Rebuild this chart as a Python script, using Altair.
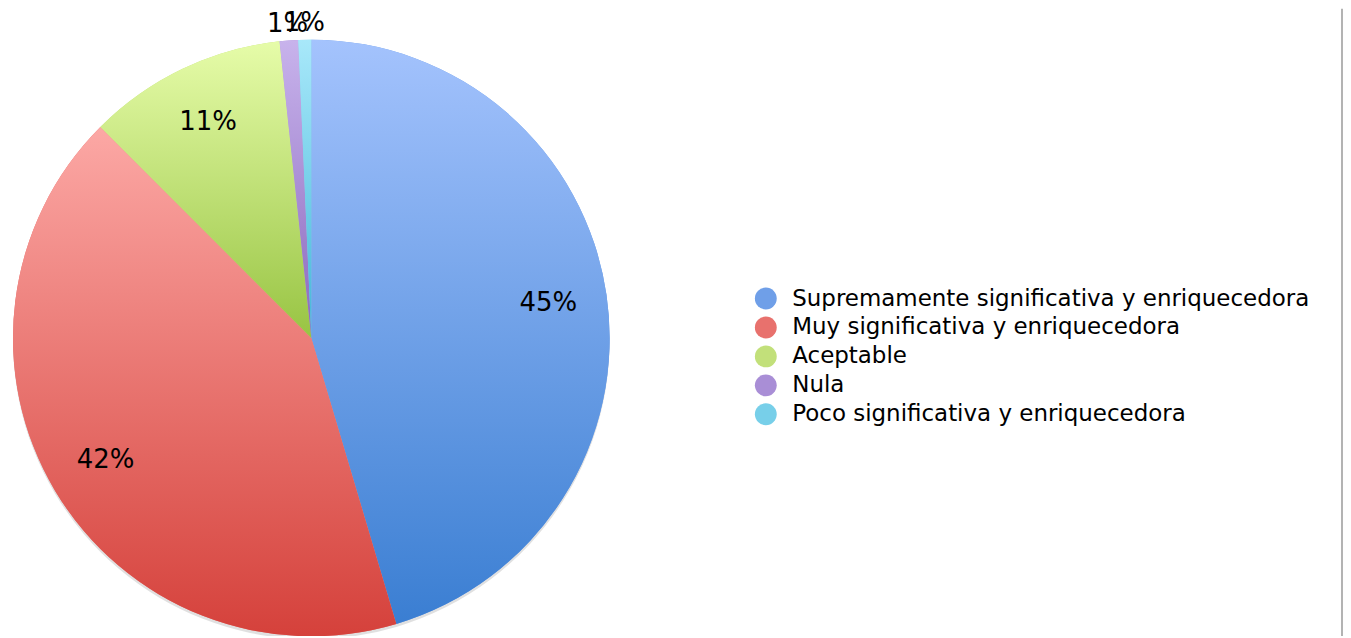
import math
import altair as alt
import pandas as pd

categories = [
    "Supremamente significativa y enriquecedora",
    "Muy significativa y enriquecedora",
    "Aceptable",
    "Nula",
    "Poco significativa y enriquecedora",
]
values = [45.4, 42.1, 10.8, 1.0, 0.7]
top_colors = ["#a4c3fd", "#fca8a5", "#e6fca9", "#c8b3ec", "#a8e8fa"]
bottom_colors = ["#3a7ed2", "#d5413b", "#98c443", "#8b69bd", "#43b6d8"]
legend_colors = ["#6f9fe8", "#e8716d", "#c2e07a", "#a98ed6", "#77cfe9"]

total = sum(values)
df = pd.DataFrame({"cat": categories, "value": values, "idx": list(range(len(categories)))})

CX, CY, R = 304, 330, 299
FONT = "DejaVu Sans"

theta_scale = alt.Scale(domain=[0, total], range=[0, 2 * math.pi])

base = (
    alt.Chart(df)
    .transform_window(cum="sum(value)", sort=[alt.SortField("idx")], frame=[None, 0])
    .transform_calculate(
        start="datum.cum - datum.value",
        mid="datum.cum - datum.value / 2",
        pct=f"datum.value / {total}",
    )
)

pos = dict(x=alt.value(CX), y=alt.value(CY))

shadow = base.mark_arc(radius=R, color="#000000", opacity=0.12, yOffset=3).encode(
    theta=alt.Theta("start:Q", scale=theta_scale), theta2="cum:Q", **pos
)

legend_layer = base.mark_arc(radius=R).encode(
    theta=alt.Theta("start:Q", scale=theta_scale),
    theta2="cum:Q",
    color=alt.Color(
        "cat:N",
        scale=alt.Scale(domain=categories, range=legend_colors),
        sort=categories,
        legend=alt.Legend(
            title=None,
            orient="none",
            legendX=748,
            legendY=279,
            symbolType="circle",
            symbolSize=480,
            symbolStrokeWidth=0,
            labelFontSize=23,
            labelFont=FONT,
            labelColor="#000000",
            labelLimit=0,
            labelOffset=15,
            rowPadding=5,
        ),
    ),
    **pos,
)

layers = [shadow, legend_layer]
for i, c in enumerate(categories):
    grad = alt.Gradient(
        gradient="linear",
        x1=0, y1=0, x2=0, y2=1,
        stops=[
            alt.GradientStop(color=top_colors[i], offset=0),
            alt.GradientStop(color=bottom_colors[i], offset=1),
        ],
    )
    layers.append(
        base.transform_filter(alt.datum.cat == c)
        .mark_arc(radius=R, fill=grad)
        .encode(theta=alt.Theta("start:Q", scale=theta_scale), theta2="cum:Q", **pos)
    )

text = (
    base.transform_calculate(
        lab="format(datum.pct, '.0%')",
        lr="datum.pct < 0.05 ? 316 : 240",
    )
    .mark_text(fontSize=26, font=FONT, color="#000000")
    .encode(
        theta=alt.Theta("mid:Q", scale=theta_scale),
        radius=alt.Radius("lr:Q", scale=None),
        text="lab:N",
        **pos,
    )
)
layers.append(text)

border = alt.Chart(pd.DataFrame({"a": [0]})).mark_rule(color="#9a9a9a", strokeWidth=1.5).encode(
    x=alt.value(1337), y=alt.value(0), y2=alt.value(630)
)
layers.append(border)

chart = (
    alt.layer(*layers)
    .properties(width=1338, height=628, padding=0, autosize=alt.AutoSizeParams(type="none"))
    .configure_view(stroke=None)
)

chart.save("out.html", embed_options={"renderer": "svg", "actions": False})
